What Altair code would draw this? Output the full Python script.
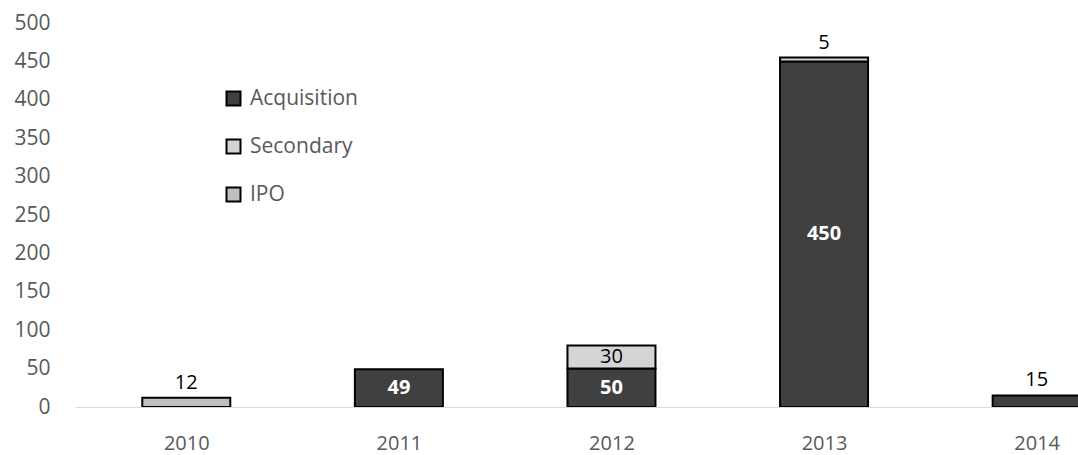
import altair as alt
import pandas as pd

# ---- data ----
years = [2010, 2011, 2012, 2012, 2013, 2013, 2014]
types = ["IPO", "Acquisition", "Acquisition", "Secondary", "Acquisition", "Secondary", "Acquisition"]
values = [12, 49, 50, 30, 450, 5, 15]

type_order = ["Acquisition", "Secondary", "IPO"]
type_colors = ["#404040", "#d4d4d4", "#bfbfbf"]
year_ticks = [2010, 2011, 2012, 2013, 2014]
y_ticks = list(range(0, 501, 50))

df = pd.DataFrame({"year": years, "type": types, "value": values})

FONT = "Open Sans"
GRAY = "#595959"

base = (
    alt.Chart(df)
    .transform_calculate(rank="indexof(['Acquisition','Secondary','IPO'], datum.type)")
    .transform_stack(
        stack="value", groupby=["year"], as_=["y0", "y1"], sort=[alt.SortField("rank")]
    )
    .transform_calculate(mid="(datum.y0 + datum.y1) / 2")
)

xscale = alt.Scale(domain=[2009.5, 2014.171], nice=False, zero=False)
yscale = alt.Scale(domain=[0, 500], nice=False)

xaxis = alt.Axis(
    values=year_ticks, format="d", title=None, ticks=False, grid=False,
    domainColor="#d9d9d9", domainWidth=1, labelFontSize=20, labelColor=GRAY,
    labelPadding=26, labelFlush=False, labelFont=FONT, labelOverlap=False,
)
yaxis = alt.Axis(
    values=y_ticks, title=None, ticks=False, grid=False, domain=False,
    labelFontSize=21, labelColor=GRAY, labelPadding=25, labelFont=FONT,
    labelOverlap=False,
)

tx = alt.X("year:Q", scale=xscale, axis=xaxis)

bars = base.mark_bar(width=88, stroke="black", strokeWidth=2, clip=True).encode(
    x=tx,
    y=alt.Y("y1:Q", scale=yscale, axis=yaxis),
    y2="y0:Q",
    color=alt.Color(
        "type:N",
        scale=alt.Scale(domain=type_order, range=type_colors),
        legend=alt.Legend(
            title=None, orient="none", legendX=148, legendY=65,
            symbolType="square", symbolSize=196, symbolStrokeColor="black",
            symbolStrokeWidth=2, labelFontSize=21, labelColor=GRAY, labelFont=FONT,
            rowPadding=25, labelOffset=6, padding=0,
        ),
    ),
)

inside_dark = base.transform_filter(
    "datum.value >= 25 && datum.type == 'Acquisition'"
).mark_text(fontSize=20, fontWeight="bold", color="white", font=FONT, baseline="middle").encode(
    x=tx, y=alt.Y("mid:Q", scale=yscale, axis=yaxis), text="value:Q"
)

inside_light = base.transform_filter(
    "datum.value >= 25 && datum.type != 'Acquisition'"
).mark_text(fontSize=20, color="black", font=FONT, baseline="middle").encode(
    x=tx, y=alt.Y("mid:Q", scale=yscale, axis=yaxis), text="value:Q"
)

outside = base.transform_filter("datum.value < 25").mark_text(
    fontSize=20, color="black", font=FONT, baseline="middle", dy=-15
).encode(x=tx, y=alt.Y("y1:Q", scale=yscale, axis=yaxis), text="value:Q")

chart = (
    alt.layer(bars, inside_dark, inside_light, outside)
    .properties(
        width=1003, height=384,
        autosize=alt.AutoSizeParams(type="none"),
        padding={"left": 75, "top": 23, "right": 0, "bottom": 48},
    )
    .configure(font=FONT)
    .configure_view(strokeWidth=0, stroke="transparent")
)

chart.save("out.html", embed_options={"renderer": "svg", "actions": False})
